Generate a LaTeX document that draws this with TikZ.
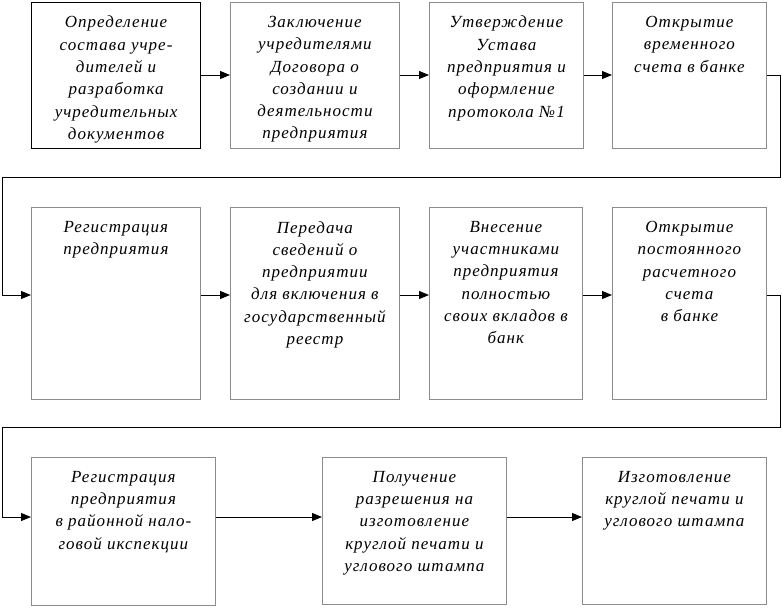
\documentclass[tikz,border=0pt]{standalone}
\usepackage{fontspec}
\setmainfont{Liberation Serif}
\newfontfamily\boxfont[LetterSpace=6]{Liberation Serif}
\usetikzlibrary{arrows.meta}
\begin{document}
\begin{tikzpicture}[x=1pt,y=-1pt,
  box/.style={draw=black!45, line width=0.8pt, rectangle, anchor=north west, inner sep=0pt},
  firstbox/.style={box, draw=black, line width=1.2pt},
  txt/.style={anchor=north, inner sep=0pt, align=center, yshift=-14pt,
    font=\boxfont\fontsize{17}{22.3}\selectfont\itshape},
  conn/.style={draw=black, line width=1pt, -{Triangle[length=10pt,width=8pt]}}]
\useasboundingbox (0,0) rectangle (782,608);
% row 1
\node[firstbox, minimum width=169pt, minimum height=146pt] (b1) at (31,2) {};
\node[box, minimum width=169pt, minimum height=146pt] (b2) at (230,2) {};
\node[box, minimum width=154pt, minimum height=146pt] (b3) at (429,2) {};
\node[box, minimum width=154pt, minimum height=146pt] (b4) at (612,2) {};
% row 2
\node[box, minimum width=169pt, minimum height=192pt] (b5) at (31,207) {};
\node[box, minimum width=169pt, minimum height=192pt] (b6) at (230,207) {};
\node[box, minimum width=153pt, minimum height=192pt] (b7) at (429,207) {};
\node[box, minimum width=154pt, minimum height=192pt] (b8) at (612,207) {};
% row 3
\node[box, minimum width=184pt, minimum height=148pt] (b9) at (31,457) {};
\node[box, minimum width=184pt, minimum height=147pt] (b10) at (322,457) {};
\node[box, minimum width=184pt, minimum height=147pt] (b11) at (582,457) {};
% texts
\node[txt] (t1) at (b1.north) {Определение\\состава учре-\\дителей и\\разработка\\учредительных\\документов};
\node[txt] (t2) at (b2.north) {Заключение\\учредителями\\Договора о\\создании и\\деятельности\\предприятия};
\node[txt] (t3) at (b3.north) {Утверждение\\Устава\\предприятия и\\оформление\\протокола №1};
\node[txt] (t4) at (b4.north) {Открытие\\временного\\счета в банке};
\node[txt] (t5) at (b5.north) {Регистрация\\предприятия};
\node[txt] (t6) at (b6.north) {Передача\\сведений о\\предприятии\\для включения в\\государственный\\реестр};
\node[txt] (t7) at (b7.north) {Внесение\\участниками\\предприятия\\полностью\\своих вкладов в\\банк};
\node[txt] (t8) at (b8.north) {Открытие\\постоянного\\расчетного\\счета\\в банке};
\node[txt] (t9) at (b9.north) {Регистрация\\предприятия\\в районной нало-\\говой икспекции};
\node[txt] (t10) at (b10.north) {Получение\\разрешения на\\изготовление\\круглой печати и\\углового штампа};
\node[txt] (t11) at (b11.north) {Изготовление\\круглой печати и\\углового штампа};
% helper coordinates
\coordinate (r1) at (0,75);
\coordinate (r2) at (0,295);
\coordinate (r3) at (0,517);
\coordinate (e1) at (780,177);
\coordinate (w1) at (2,177);
\coordinate (e2) at (780,427);
\coordinate (w2) at (2,427);
% connectors
\draw[conn] (b1.east |- r1) -- (b2.west |- r1);
\draw[conn] (b2.east |- r1) -- (b3.west |- r1);
\draw[conn] (b3.east |- r1) -- (b4.west |- r1);
\draw[conn] (b4.east |- r1) -| (e1) -- (w1) |- (b5.west |- r2);
\draw[conn] (b5.east |- r2) -- (b6.west |- r2);
\draw[conn] (b6.east |- r2) -- (b7.west |- r2);
\draw[conn] (b7.east |- r2) -- (b8.west |- r2);
\draw[conn] (b8.east |- r2) -| (e2) -- (w2) |- (b9.west |- r3);
\draw[conn] (b9.east |- r3) -- (b10.west |- r3);
\draw[conn] (b10.east |- r3) -- (b11.west |- r3);
\end{tikzpicture}
\end{document}
